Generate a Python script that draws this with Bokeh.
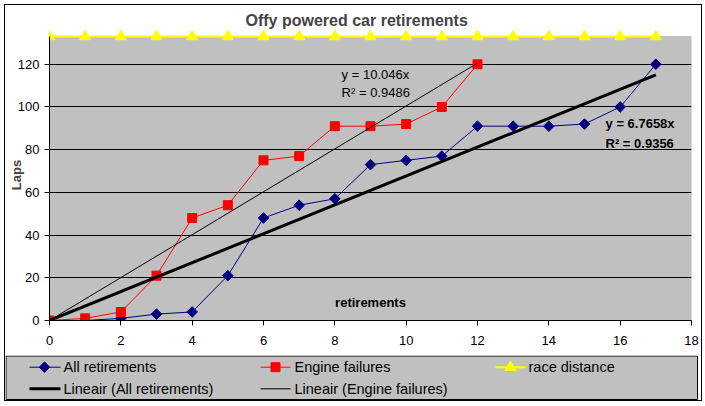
import numpy as np
from bokeh.plotting import figure
from bokeh.models import FixedTicker, BoxAnnotation, Label, Range1d
from bokeh.layouts import column
from bokeh.embed import file_html
from bokeh.resources import INLINE
from bokeh.core.properties import value

# ---------------- data ----------------
retirement_no = list(range(18))
all_retirements = [0, 0, 1, 3, 4, 21, 48, 54, 57, 73, 75, 77, 91, 91, 91, 92, 100, 120]
engine_no = list(range(13))
engine_failures = [0, 1, 4, 21, 48, 54, 75, 77, 91, 91, 92, 100, 120]
race_x = list(range(18))
race_distance = [133] * 18

x_ticks = [0, 2, 4, 6, 8, 10, 12, 14, 16, 18]
y_ticks = [0, 20, 40, 60, 80, 100, 120]
y_max = 133

title_text = "Offy powered car retirements"
x_title = "retirements"
y_title = "Laps"
legend_labels = ["All retirements", "Engine failures", "race distance",
                 "Lineair (All retirements)", "Lineair (Engine failures)"]
eq_all = ["y = 6.7658x", "R\u00b2 = 0.9356"]
eq_eng = ["y = 10.046x", "R\u00b2 = 0.9486"]

# ---------------- styles ----------------
FONT = "Liberation Sans"
NAVY = "#000080"
RED = "#FF0000"
YELLOW = "#FFFF00"
GREY = "#C0C0C0"
W = 696
H_MAIN = 350
H_LEG = 45
y_end = 136.28

p = figure(width=W, height=H_MAIN, x_range=Range1d(0, 18), y_range=Range1d(0, y_end),
           output_backend="svg", toolbar_location=None,
           min_border_left=44, min_border_right=10, min_border_top=24, min_border_bottom=35,
           background_fill_color="white", border_fill_color="white", outline_line_color=None,
           frame_align=False)

p.title.text = title_text
p.title.align = "left"
p.title.text_font = FONT
p.title.text_font_size = "16px"
p.title.text_font_style = "bold"
p.title.standoff = 0
p.title.offset = 196
p.title.vertical_align = "middle"

for ax in (p.xaxis[0], p.yaxis[0]):
    ax.major_tick_in = 0
    ax.major_tick_out = 5
    ax.minor_tick_in = 0
    ax.minor_tick_out = 0
    ax.axis_line_color = "black"
    ax.major_tick_line_color = "black"
    ax.major_label_text_font = FONT
    ax.major_label_text_font_size = "13px"
    ax.major_label_text_color = "black"

p.xaxis.ticker = FixedTicker(ticks=x_ticks)
p.xaxis.major_label_standoff = 10
p.yaxis.ticker = FixedTicker(ticks=y_ticks)
p.yaxis.bounds = (0, y_max)
p.yaxis.major_label_standoff = 5
p.yaxis.axis_label = y_title
p.yaxis.axis_label_text_font = FONT
p.yaxis.axis_label_text_font_size = "13px"
p.yaxis.axis_label_text_font_style = "bold"
p.yaxis.axis_label_standoff = -9

p.xgrid.visible = False
p.ygrid.grid_line_color = "black"
p.ygrid.grid_line_width = 1

p.add_layout(BoxAnnotation(left=0, right=18, bottom=0, top=y_max, fill_color=GREY, fill_alpha=1,
                           line_color="#808080", line_width=1, level="image"))

# series
p.line(race_x, race_distance, color=YELLOW, line_width=2)
p.scatter(race_x, race_distance, marker="triangle", size=11, fill_color=YELLOW, line_color=YELLOW)

p.line(retirement_no, all_retirements, color=NAVY, line_width=1)
p.scatter(retirement_no, all_retirements, marker="square", angle=np.pi / 4, size=7.5,
          fill_color=NAVY, line_color=NAVY)

p.line(engine_no, engine_failures, color=RED, line_width=1)
p.scatter(engine_no, engine_failures, marker="square", size=9, fill_color=RED, line_color=RED)

# linear trendlines through origin
xa = np.array(retirement_no, float); ya = np.array(all_retirements, float)
xe = np.array(engine_no, float); ye = np.array(engine_failures, float)
slope_all = (xa * ya).sum() / (xa * xa).sum()
slope_eng = (xe * ye).sum() / (xe * xe).sum()
p.line([xa.min(), xa.max()], [slope_all * xa.min(), slope_all * xa.max()], color="black", line_width=3)
p.line([xe.min(), xe.max()], [slope_eng * xe.min(), slope_eng * xe.max()], color="black", line_width=1)

lab_kw = dict(text_font=FONT, text_font_size="13px", text_baseline="middle", text_color="black")
p.add_layout(Label(x=9, y=8.4, text=x_title, text_align="center", text_font_style="bold", **lab_kw))
p.add_layout(Label(x=8.19, y=115.2, text=eq_eng[0], **lab_kw))
p.add_layout(Label(x=8.19, y=106.6, text=eq_eng[1], **lab_kw))
p.add_layout(Label(x=15.59, y=92.1, text=eq_all[0], text_font_style="bold", **lab_kw))
p.add_layout(Label(x=15.59, y=82.7, text=eq_all[1], text_font_style="bold", **lab_kw))

# ---------------- legend panel ----------------
leg = figure(width=W, height=H_LEG, x_range=Range1d(0, W), y_range=Range1d(0, H_LEG),
             output_backend="svg", toolbar_location=None, x_axis_type=None, y_axis_type=None,
             min_border=0, min_border_left=0, min_border_right=0, min_border_top=0, min_border_bottom=0,
             background_fill_color="white", border_fill_color="white",
             outline_line_color=None, frame_align=False)
leg.grid.visible = False

leg.quad(left=[0.5], right=[692], bottom=[1], top=[44.5], fill_color=GREY, line_color="black", line_width=1)

r1, r2 = 33.3, 11.7
leg.segment(x0=[24, 255, 490], y0=[r1, r1, r1], x1=[55, 285, 520], y1=[r1, r1, r1],
            color=[NAVY, RED, YELLOW], line_width=[1, 1, 2])
leg.scatter([39], [r1], marker="square", angle=np.pi / 4, size=7.5, color=NAVY)
leg.scatter([270], [r1], marker="square", size=9, color=RED)
leg.scatter([505], [r1], marker="triangle", size=11, color=YELLOW)
leg.segment(x0=[24, 255], y0=[r2, r2], x1=[55, 285], y1=[r2, r2], color="black", line_width=[3, 1])
leg.text(x=[58, 289, 523, 58, 289], y=[r1, r1, r1, r2, r2], text=legend_labels,
         text_font=value(FONT), text_font_size="14.5px", text_baseline="middle", text_color="black")

layout = column(p, leg, spacing=0, margin=(5, 0, 0, 5),
                styles={"outline": "1px solid black"})

open("out.html", "w").write(file_html(layout, INLINE))
